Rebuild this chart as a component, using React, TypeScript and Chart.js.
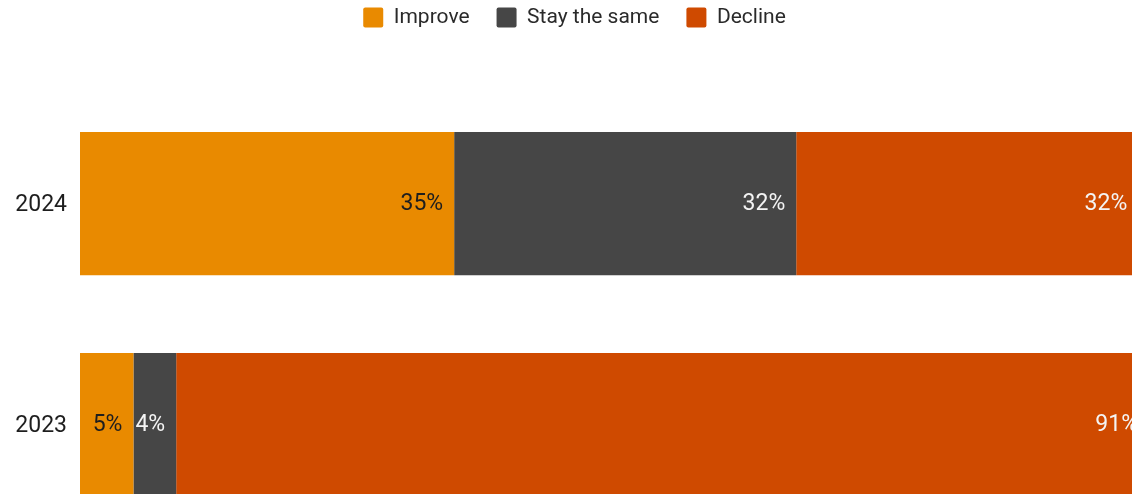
import React, { useEffect, useRef } from "react";
import { Chart, registerables } from "chart.js";

Chart.register(...registerables);

const years = ["2024", "2023"];
const improve = [35, 5];
const stayTheSame = [32, 4];
const decline = [32, 91];
const seriesNames = ["Improve", "Stay the same", "Decline"];
const seriesColors = ["#E98A00", "#464646", "#CF4A00"];
const labelColors = ["#1e1e1e", "#f4f4f4", "#f4f4f4"];

const FONT = "Roboto, 'Liberation Sans', Arial, sans-serif";
const CANVAS_W = 1149;
const CANVAS_H = 582;

const legendSpacer = {
  id: "legendSpacer",
  beforeInit(chart: any) {
    const legend = chart.legend;
    if (!legend) return;
    const orig = legend.fit;
    legend.fit = function fit() {
      orig.bind(legend)();
      this.height += 55;
    };
  },
};

const barLabels = {
  id: "barLabels",
  afterDatasetsDraw(chart: any) {
    const ctx = chart.ctx;
    ctx.save();
    ctx.font = `23px ${FONT}`;
    ctx.textAlign = "right";
    ctx.textBaseline = "middle";
    chart.data.datasets.forEach((ds: any, di: number) => {
      const meta = chart.getDatasetMeta(di);
      if (meta.hidden) return;
      meta.data.forEach((el: any, i: number) => {
        const v = ds.data[i];
        if (v == null) return;
        ctx.fillStyle = labelColors[di];
        ctx.fillText(`${v}%`, el.x - 11, el.y + 1);
      });
    });
    ctx.restore();
  },
};

export default function App() {
  const ref = useRef<HTMLCanvasElement | null>(null);

  useEffect(() => {
    if (!ref.current) return;
    const series = [improve, stayTheSame, decline];
    const chart = new Chart(ref.current, {
      type: "bar",
      data: {
        labels: years,
        datasets: series.map((d, i) => ({
          label: seriesNames[i],
          data: d,
          backgroundColor: seriesColors[i],
          borderWidth: 0,
          barPercentage: 0.9,
          categoryPercentage: 0.72,
        })),
      },
      options: {
        indexAxis: "y",
        animation: false,
        responsive: false,
        devicePixelRatio: 1,
        layout: { padding: 0 },
        scales: {
          x: {
            stacked: true,
            min: 0,
            max: 100,
            display: false,
          },
          y: {
            stacked: true,
            grid: { display: false, drawTicks: false },
            border: { display: false },
            ticks: {
              padding: 13,
              labelOffset: 2,
              color: "#1e1e1e",
              font: { family: FONT, size: 23 },
            },
            afterFit(scale: any) {
              scale.width = 80;
            },
          },
        },
        plugins: {
          legend: {
            position: "top",
            labels: {
              boxWidth: 20,
              boxHeight: 20,
              padding: 27,
              color: "#2a2a2a",
              useBorderRadius: true,
              borderRadius: 2,
              font: { family: FONT, size: 21 },
            },
          },
          tooltip: { enabled: false },
        },
      },
      plugins: [legendSpacer, barLabels],
    } as any);
    return () => chart.destroy();
  }, []);

  return (
    <div
      style={{
        position: "fixed",
        left: 0,
        top: 0,
        width: 1132,
        height: 494,
        overflow: "hidden",
        background: "#ffffff",
      }}
    >
      <div style={{ position: "absolute", left: 0, top: -20, width: CANVAS_W, height: CANVAS_H }}>
        <canvas
          ref={ref}
          width={CANVAS_W}
          height={CANVAS_H}
          style={{ display: "block", width: CANVAS_W, height: CANVAS_H }}
        />
      </div>
    </div>
  );
}
